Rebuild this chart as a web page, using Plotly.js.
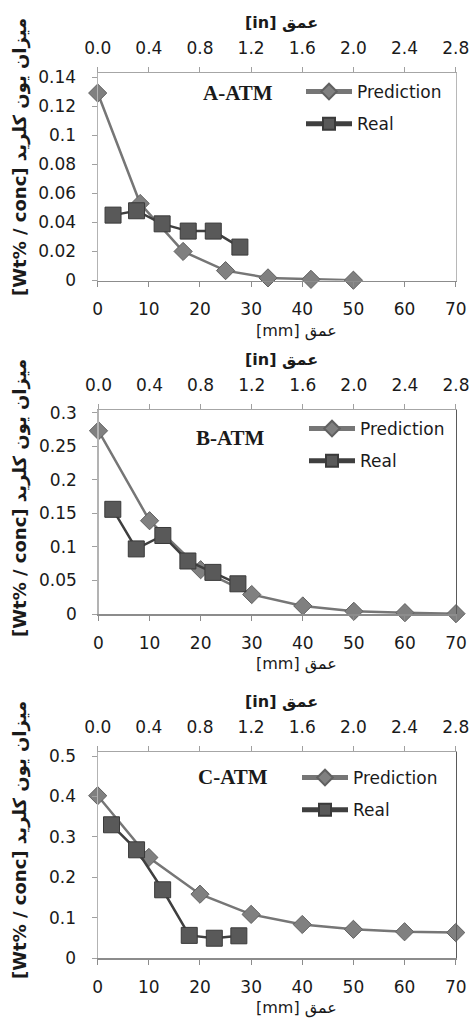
<!DOCTYPE html>
<html>
<head>
<meta charset="utf-8">
<script src="https://cdn.plot.ly/plotly-3.0.1.min.js"></script>
<style>
html,body{margin:0;padding:0;background:#fff;}
#chart{width:469px;height:1021px;}
</style>
</head>
<body>
<div id="chart"></div>
<script>
// ---- data ----
const panelNames = ["A-ATM", "B-ATM", "C-ATM"];
const seriesNames = ["Prediction", "Real"];

const predA_x = [0, 8.3, 16.7, 25, 33.3, 41.7, 50];
const predA_y = [0.129, 0.053, 0.020, 0.0068, 0.0018, 0.0008, 0.0002];
const realA_x = [3, 7.6, 12.6, 17.7, 22.6, 27.8];
const realA_y = [0.045, 0.048, 0.039, 0.034, 0.034, 0.023];

const predB_x = [0, 10, 20, 30, 40, 50, 60, 70];
const predB_y = [0.273, 0.139, 0.066, 0.029, 0.012, 0.004, 0.002, 0.0005];
const realB_x = [2.8, 7.4, 12.6, 17.5, 22.4, 27.3];
const realB_y = [0.156, 0.097, 0.117, 0.079, 0.062, 0.045];

const predC_x = [0, 10, 20, 30, 40, 50, 60, 70];
const predC_y = [0.402, 0.249, 0.158, 0.108, 0.083, 0.071, 0.065, 0.063];
const realC_x = [2.7, 7.6, 12.7, 17.9, 22.8, 27.6];
const realC_y = [0.330, 0.268, 0.169, 0.056, 0.049, 0.055];

const mmTicks = [0, 10, 20, 30, 40, 50, 60, 70];
const inTicks = [0.0, 0.4, 0.8, 1.2, 1.6, 2.0, 2.4, 2.8];
const inTickText = ["0.0", "0.4", "0.8", "1.2", "1.6", "2.0", "2.4", "2.8"];
const yMaxes = [0.143, 0.304, 0.511];
const yDticks = [0.02, 0.05, 0.1];

const yTitle = "[Wt% / conc] میزان یون کلرید";
const xTitleBottom = "[mm] عمق";
const xTitleTop = "[in] عمق";

// ---- styling ----
const W = 469, H = 1021;
const FONT = "DejaVu Sans, sans-serif";
const tickFont = {family: FONT, size: 17, color: "#1a1a1a"};
// plot rectangles in pixels: [left, right, top, bottom]
const rects = [
  [97.7, 455.7, 72.7, 280.5],
  [98.5, 456, 410, 614],
  [97.7, 455.7, 751.7, 958]
];
const px = v => v / W;
const py = v => 1 - v / H;

const preds = [[predA_x, predA_y], [predB_x, predB_y], [predC_x, predC_y]];
const reals = [[realA_x, realA_y], [realB_x, realB_y], [realC_x, realC_y]];

const traces = [];
const layout = {
  width: W, height: H,
  margin: {l: 0, r: 0, t: 0, b: 0},
  paper_bgcolor: "#ffffff",
  plot_bgcolor: "#ffffff",
  showlegend: true,
  annotations: []
};

const legendPos = [
  {x: 301, y: 74},
  {x: 304, y: 411},
  {x: 297, y: 760}
];
const labelPos = [
  {x: 238, y: 93},
  {x: 230, y: 438},
  {x: 233, y: 777}
];
const yTitlePos = [157, 498, 840];

for (let i = 0; i < 3; i++) {
  const n = i + 1;
  const xa = n === 1 ? "x" : "x" + n;
  const ya = n === 1 ? "y" : "y" + n;
  const xtop = "x" + (n + 3);
  const yright = "y" + (n + 3);
  const leg = n === 1 ? "legend" : "legend" + n;
  const [l, r, t, b] = rects[i];

  traces.push({
    type: "scatter", mode: "lines+markers",
    name: seriesNames[0], x: preds[i][0], y: preds[i][1],
    xaxis: xa, yaxis: ya, legend: leg, legendgroup: "p" + n,
    cliponaxis: false,
    line: {color: "#767676", width: 2.5},
    marker: {symbol: "diamond", size: 14, color: "#808080", line: {color: "#606060", width: 1}},
    hoverinfo: "x+y"
  });
  traces.push({
    type: "scatter", mode: "lines+markers",
    name: seriesNames[1], x: reals[i][0], y: reals[i][1],
    xaxis: xa, yaxis: ya, legend: leg, legendgroup: "r" + n,
    cliponaxis: false,
    line: {color: "#3f3f3f", width: 2.5},
    marker: {symbol: "square", size: 16, color: "#595959", line: {color: "#3a3a3a", width: 1}},
    hoverinfo: "x+y"
  });
  // empty traces to register the secondary axes
  traces.push({type: "scatter", x: [], y: [], xaxis: xtop, yaxis: ya, showlegend: false, hoverinfo: "skip"});
  traces.push({type: "scatter", x: [], y: [], xaxis: xa, yaxis: yright, showlegend: false, hoverinfo: "skip"});

  const xdom = [px(l), px(r)];
  const ydom = [py(b), py(t)];

  layout["xaxis" + (n === 1 ? "" : n)] = {
    domain: xdom, anchor: ya, range: [0, 70],
    tickvals: mmTicks, ticktext: mmTicks.map(String),
    showgrid: false, zeroline: false,
    showline: true, linecolor: "#8c8c8c", linewidth: 1.5,
    ticks: "outside", ticklen: 5, tickcolor: "#8c8c8c", tickwidth: 1,
    ticklabelstandoff: 8, ticklabeloverflow: "allow",
    tickfont: tickFont, fixedrange: true
  };
  layout["yaxis" + (n === 1 ? "" : n)] = {
    domain: ydom, anchor: xa, range: [0, yMaxes[i]],
    dtick: yDticks[i], tick0: 0,
    showgrid: false, zeroline: false,
    showline: true, linecolor: "#b3b3b3", linewidth: 1.2,
    ticks: "outside", ticklen: 5, tickcolor: "#a0a0a0", tickwidth: 1,
    ticklabelstandoff: 12, ticklabeloverflow: "allow",
    tickfont: tickFont, fixedrange: true
  };
  layout["xaxis" + (n + 3)] = {
    domain: xdom, anchor: ya, overlaying: xa, side: "top",
    range: [0, 2.8001], tickvals: inTicks, ticktext: inTickText,
    showgrid: false, zeroline: false,
    showline: true, linecolor: "#a6a6a6", linewidth: 1.2,
    ticks: "outside", ticklen: 5, tickcolor: "#a0a0a0", tickwidth: 1,
    ticklabelstandoff: 6, ticklabeloverflow: "allow",
    tickfont: tickFont, fixedrange: true
  };
  layout["yaxis" + (n + 3)] = {
    domain: ydom, anchor: xa, overlaying: ya, side: "right",
    range: [0, yMaxes[i]],
    showgrid: false, zeroline: false, showticklabels: false, ticks: "",
    showline: true, linecolor: i === 0 ? "#b8b8b8" : "#5a5a5a", linewidth: 1.2,
    fixedrange: true
  };

  layout[leg] = {
    x: px(legendPos[i].x), y: py(legendPos[i].y),
    xanchor: "left", yanchor: "top",
    bgcolor: "rgba(0,0,0,0)", borderwidth: 0,
    font: {family: FONT, size: 17, color: "#1a1a1a"},
    traceorder: "grouped", tracegroupgap: 7,
    itemsizing: "constant", itemwidth: 46,
    itemclick: false, itemdoubleclick: false
  };

  // panel label
  layout.annotations.push({
    xref: "paper", yref: "paper",
    x: px(labelPos[i].x), y: py(labelPos[i].y),
    xanchor: "center", yanchor: "middle", showarrow: false,
    text: "<b>" + panelNames[i] + "</b>",
    font: {family: "Liberation Serif, serif", size: 21, color: "#1a1a1a"}
  });
  // top axis title
  layout.annotations.push({
    xref: "paper", yref: "paper",
    x: px(281), y: py(t - 50.5),
    xanchor: "center", yanchor: "middle", showarrow: false,
    text: "<b>" + xTitleTop + "</b>",
    font: {family: FONT, size: 16, color: "#1a1a1a"}
  });
  // bottom axis title
  layout.annotations.push({
    xref: "paper", yref: "paper",
    x: px(296), y: py(b + 50),
    xanchor: "center", yanchor: "middle", showarrow: false,
    text: xTitleBottom,
    font: {family: FONT, size: 16, color: "#1a1a1a"}
  });
  // y title
  layout.annotations.push({
    xref: "paper", yref: "paper",
    x: px(20), y: py(yTitlePos[i]),
    xanchor: "center", yanchor: "middle", showarrow: false,
    textangle: -90,
    text: "<b>" + yTitle + "</b>",
    font: {family: FONT, size: 18, color: "#1a1a1a"}
  });
}

Plotly.newPlot("chart", traces, layout, {staticPlot: true, displayModeBar: false});
</script>
</body>
</html>
